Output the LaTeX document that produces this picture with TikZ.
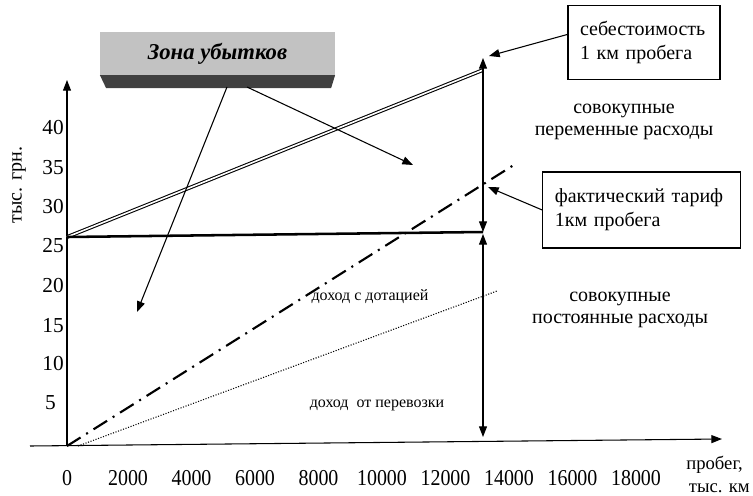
\documentclass[tikz,border=0pt]{standalone}
\usepackage{fontspec}
\setmainfont{Liberation Serif}
\usetikzlibrary{arrows.meta, positioning}

\begin{document}
\begin{tikzpicture}
  [
    x=0.75pt, y=-0.75pt,
    arrowed/.style={line width=0.8pt, -{Triangle[length=8pt,width=6pt]}},
    two way/.style={line width=0.8pt, {Triangle[length=8pt,width=6pt]}-{Triangle[length=8pt,width=6pt]}},
    tick label/.style={font=\fontsize{16}{16}\selectfont, inner sep=0pt},
    km label/.style={font=\fontsize{17}{17}\selectfont, inner sep=0pt},
    note/.style={font=\fontsize{15}{16}\selectfont, align=center, inner sep=0pt},
    note box/.style={draw, line width=0.9pt, font=\fontsize{15}{18}\selectfont, align=left, inner xsep=9pt},
    small note/.style={font=\fontsize{12}{14}\selectfont, inner sep=0pt}
  ]
  \useasboundingbox (0,0) rectangle (753,496);

  \coordinate (origin) at (67,446);
  \coordinate (x start) at (30,446);
  \coordinate (x end) at (722,439);
  \coordinate (y end) at (67,80);
  \draw[arrowed] (x start) -- (x end);
  \draw[arrowed] (origin) -- (y end);

  \foreach \v/\x/\y in {40/64/128, 35/64/168, 30/64/207, 25/64/246, 20/64/286, 15/64/326, 10/64/364, 5/56/403}
    \node[tick label, anchor=east] (y\v) at (\x,\y) {\v};
  \foreach \v/\x in {0/67, 2000/128, 4000/191.5, 6000/255, 8000/318.5, 10000/382, 12000/445.5, 14000/509, 16000/572.5, 18000/636}
    \node[km label] (x\v) at (\x,478) {\scalebox{0.88}[1]{\v}};

  \node[note, rotate=90] (y name) at (19,185) {тыс. грн.};
  \node[font=\fontsize{14}{14}\selectfont, inner sep=0pt, anchor=east] (x name) at (743,465) {пробег,};
  \node[font=\fontsize{14}{14}\selectfont, inner sep=0pt, anchor=east] (x unit) at (750,488) {тыс. км};

  \coordinate (cost start) at (67,237);
  \coordinate (cost end) at (483,70);
  \coordinate (fixed end) at (483,232);
  \coordinate (subsidy end) at (517,163);
  \coordinate (haul start) at (78,446);
  \coordinate (haul end) at (497,291);
  \draw[line width=0.8pt, double, double distance=1.2pt] (cost start) -- (cost end);
  \draw[line width=1.9pt] (cost start) -- (fixed end);
  \draw[line width=1.6pt, dash pattern=on 12pt off 5pt on 1.5pt off 5pt] (origin) -- (subsidy end);
  \draw[line width=0.8pt, dash pattern=on 0.8pt off 1.2pt] (haul start) -- (haul end);

  \coordinate (v top) at (483,58);
  \coordinate (v upper) at (483,232);
  \coordinate (v lower) at (483,234);
  \coordinate (v bottom) at (483,437);
  \draw[two way] (v upper) -- (v top);
  \draw[two way] (v lower) -- (v bottom);

  \node[note box, text width=96pt, minimum height=56pt] (cost box) at (644,42.5) {себестоимость\\1 км пробега};
  \node[note box, text width=130pt, minimum height=57pt] (tariff box) at (641.5,210) {фактический тариф\\1км пробега};
  \coordinate (cost tip) at (489,56);
  \coordinate (tariff tip) at (488,187);
  \draw[arrowed] (cost box.174) -- (cost tip);
  \draw[arrowed] (tariff box.west) -- (tariff tip);

  \node[note] (var costs) at (624,122) {совокупные\\переменные расходы};
  \node[note] (fixed costs) at (620,310) {совокупные\\постоянные расходы};
  \node[small note] (subsidy label) at (370,297) {доход с дотацией};
  \node[small note] (haul label) at (377,405) {доход\ \ от перевозки};

  \node[fill=black!24, minimum width=176pt, minimum height=32pt, font=\fontsize{17}{17}\selectfont\bfseries\itshape] (loss zone) at (217.5,53.5) {Зона убытков};
  \fill[black!75] (loss zone.south west) -- (loss zone.south east) -- ++(-4,13) -- ++(-225,0) -- cycle;
  \coordinate (loss left) at (227,87);
  \coordinate (loss right) at (247,87);
  \coordinate (loss left tip) at (137,312);
  \coordinate (loss right tip) at (413,165);
  \draw[arrowed] (loss left) -- (loss left tip);
  \draw[arrowed] (loss right) -- (loss right tip);
\end{tikzpicture}
\end{document}
